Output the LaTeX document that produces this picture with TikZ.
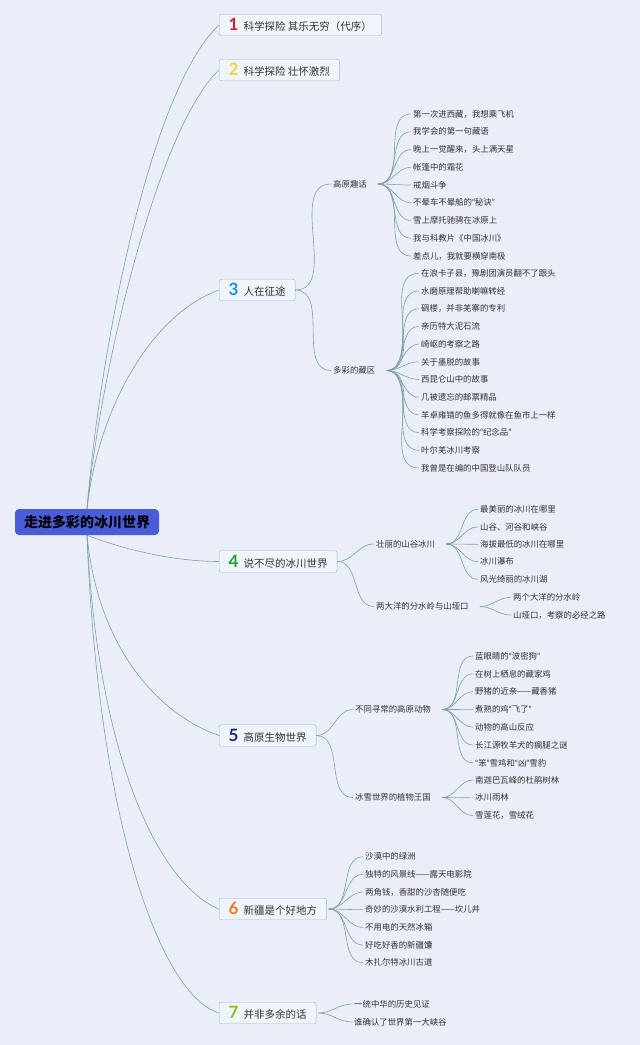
\documentclass[tikz,border=0pt]{standalone}
\usepackage{fontspec}
\setmainfont{Noto Sans CJK SC}
\newfontfamily\numfont{Lato}
\definecolor{bg}{RGB}{234,238,249}
\definecolor{rootfill}{RGB}{74,92,216}
\definecolor{boxfill}{RGB}{240,245,251}
\definecolor{boxline}{RGB}{160,182,196}
\definecolor{linkc}{RGB}{125,160,166}
\definecolor{txt}{RGB}{50,50,50}
\definecolor{c1}{RGB}{214,30,50}
\definecolor{c2}{RGB}{240,214,60}
\definecolor{c3}{RGB}{40,140,214}
\definecolor{c4}{RGB}{30,160,50}
\definecolor{c5}{RGB}{30,40,120}
\definecolor{c6}{RGB}{240,120,30}
\definecolor{c7}{RGB}{140,194,30}
\newcommand\bnum[2]{{\numfont\bfseries\fontsize{17}{17}\selectfont\color{#1}#2}\hspace{5pt}}
\newcommand\oq{{\numfont“}}
\newcommand\cq{{\numfont”}}

\begin{document}
\begin{tikzpicture}[
    x=1pt, y=-1pt,
    rootbox/.style={fill=rootfill, rounded corners=4pt, minimum width=144pt, minimum height=26pt, font=\fontsize{14}{16}\selectfont\bfseries, text=black},
    branch/.style={draw=boxline, fill=boxfill, rounded corners=2pt, minimum height=21.5pt, inner xsep=9.5pt, anchor=west, font=\fontsize{10.5}{12}\selectfont, text=txt},
    sub/.style={anchor=west, inner xsep=2pt, inner ysep=1pt, font=\fontsize{8.4}{10}\selectfont, text=txt},
    leaf/.style={sub},
    link/.style={draw=linkc, line width=0.6pt}
]
\useasboundingbox (0,0) rectangle (640,1045);
\fill[bg] (0,0) rectangle (640,1045);

\node[rootbox] (glacier) at (87,522) {走进多彩的冰川世界};

\node[branch] (intro) at (219,25) {\bnum{c1}{1}科学探险 其乐无穷（代序）};
\node[branch] (passion) at (219,70) {\bnum{c2}{2}科学探险 壮怀激烈};
\node[branch] (journey) at (219,290) {\bnum{c3}{3}人在征途};
\node[branch] (world) at (219,561.5) {\bnum{c4}{4}说不尽的冰川世界};
\node[branch] (biology) at (219,735.5) {\bnum{c5}{5}高原生物世界};
\node[branch] (xinjiang) at (219,909) {\bnum{c6}{6}新疆是个好地方};
\node[branch] (epilogue) at (219,1013) {\bnum{c7}{7}并非多余的话};

\draw[link] (glacier.north) .. controls (100,350) and (150,90) .. (intro.west);
\draw[link] (glacier.north) .. controls (102,360) and (160,125) .. (passion.west);
\draw[link] (glacier.north) .. controls (98,410) and (150,315) .. (journey.west);
\draw[link] (glacier.south) .. controls (125,550) and (175,561.5) .. (world.west);
\draw[link] (glacier.south) .. controls (98,650) and (160,715) .. (biology.west);
\draw[link] (glacier.south) .. controls (98,760) and (160,885) .. (xinjiang.west);
\draw[link] (glacier.south) .. controls (98,820) and (160,995) .. (epilogue.west);

\node[sub] (tales) at (331,184) {高原趣话};
\node[sub] (tibet) at (331,370.5) {多彩的藏区};
\node[sub] (valley) at (374,544) {壮丽的山谷冰川};
\node[sub] (divide) at (374,606.5) {两大洋的分水岭与山垭口};
\node[sub] (animals) at (353,709.5) {不同寻常的高原动物};
\node[sub] (plants) at (353,797.5) {冰雪世界的植物王国};

\foreach \s in {tales,tibet}
  \draw[link] (journey.east) to[out=0,in=180] (\s.west);
\foreach \s in {valley,divide}
  \draw[link] (world.east) to[out=0,in=180] (\s.west);
\foreach \s in {animals,plants}
  \draw[link] (biology.east) to[out=0,in=180] (\s.west);

\foreach \t [count=\i] in {第一次进西藏，我想乘飞机, 我学会的第一句藏语, 晚上一觉醒来，头上满天星, 帐篷中的霜花, 戒烟斗争, 不晕车不晕船的\oq 秘诀\cq, 雪上摩托驰骋在冰原上, 我与科教片《中国冰川》, 差点儿，我就要横穿南极}
  \node[leaf] (tales-\i) at (411,{114+17.75*(\i-1)}) {\t};
\foreach \t [count=\i] in {在浪卡子县，豫剧团演员翻不了跟头, 水磨原理帮助喇嘛转经, 碉楼，并非羌寨的专利, 亲历特大泥石流, 崎岖的考察之路, 关于墨脱的故事, 西昆仑山中的故事, 几被遗忘的邮票精品, 羊卓雍错的鱼多得就像在鱼市上一样, 科学考察探险的\oq 纪念品\cq, 叶尔羌冰川考察, 我曾是在编的中国登山队队员}
  \node[leaf] (tibet-\i) at (419,{273.3+17.7*(\i-1)}) {\t};
\foreach \t [count=\i] in {最美丽的冰川在哪里, 山谷、河谷和峡谷, 海拔最低的冰川在哪里, 冰川瀑布, 风光绮丽的冰川湖}
  \node[leaf] (valley-\i) at (478,{509.3+17.5*(\i-1)}) {\t};
\foreach \t [count=\i] in {两个大洋的分水岭, 山垭口，考察的必经之路}
  \node[leaf] (divide-\i) at (511,{597.3+17.7*(\i-1)}) {\t};
\foreach \t [count=\i] in {蓝眼睛的\oq 波密狗\cq, 在树上栖息的藏家鸡, 野猪的近亲——藏香猪, 煮熟的鸡\oq 飞了\cq, 动物的高山反应, 长江源牧羊犬的瘸腿之谜, \oq 笨\cq 雪鸡和\oq 凶\cq 雪豹}
  \node[leaf] (animals-\i) at (473,{656+17.8*(\i-1)}) {\t};
\foreach \t [count=\i] in {南迦巴瓦峰的杜鹃树林, 冰川雨林, 雪莲花，雪绒花}
  \node[leaf] (plants-\i) at (473,{780+17.8*(\i-1)}) {\t};
\foreach \t [count=\i] in {沙漠中的绿洲, 独特的风景线——露天电影院, 两角钱，香甜的沙杏随便吃, 奇妙的沙漠水利工程——坎儿井, 不用电的天然冰箱, 好吃好香的新疆馕, 木扎尔特冰川古道}
  \node[leaf] (xinjiang-\i) at (363,{856.7+17.67*(\i-1)}) {\t};
\foreach \t [count=\i] in {一统中华的历史见证, 谁确认了世界第一大峡谷}
  \node[leaf] (epilogue-\i) at (352,{1004+18*(\i-1)}) {\t};

\coordinate (f-tales) at ([xshift=9pt]tales.east);
\coordinate (f-tibet) at ([xshift=9pt]tibet.east);
\coordinate (f-valley) at ([xshift=9pt]valley.east);
\coordinate (f-divide) at ([xshift=9pt]divide.east);
\coordinate (f-animals) at ([xshift=9pt]animals.east);
\coordinate (f-plants) at ([xshift=9pt]plants.east);
\coordinate (f-xinjiang) at ([xshift=2pt]xinjiang.east);
\coordinate (f-epilogue) at ([xshift=2pt]epilogue.east);

\foreach \s/\n in {tales/9, tibet/12, valley/5, divide/2, animals/7, plants/3, xinjiang/7, epilogue/2}
  \foreach \i in {1,...,\n}
    \draw[link] (f-\s) to[out=0,in=180] (\s-\i.west);
\end{tikzpicture}
\end{document}
